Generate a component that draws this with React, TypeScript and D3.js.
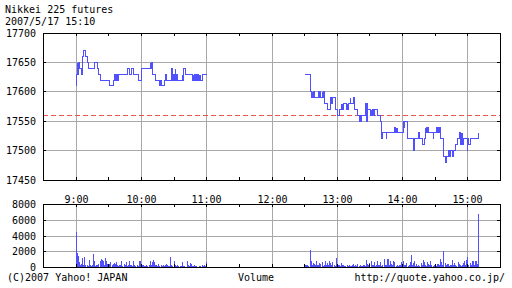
import React from 'react';
import * as d3 from 'd3';

const TITLE = 'Nikkei 225 futures';
const STAMP = '2007/5/17 15:10';
const FOOT_LEFT = '(C)2007 Yahoo! JAPAN';
const FOOT_MID = 'Volume';
const FOOT_RIGHT = 'http://quote.yahoo.co.jp/';

const PRICE_TICKS = [17450, 17500, 17550, 17600, 17650, 17700];
const VOL_TICKS = [0, 2000, 4000, 6000, 8000];
const HOUR_TICKS = [540, 600, 660, 720, 780, 840, 900];
const HOUR_LABELS = ['9:00', '10:00', '11:00', '12:00', '13:00', '14:00', '15:00'];
const PREV_CLOSE = 17560;

// morning session: minutes after 9:00 and price (step changes)
const AM_TIME = [0, 0.3, 0.8, 1.2, 1.6, 2.0, 2.4, 2.8, 4.9, 5.5, 6.1, 7.0, 8.9, 10.7, 11.2, 16.8, 19.3, 21.0, 22.3, 30.9, 34.0, 35.5, 36.0, 36.5, 37.0, 37.5, 38.0, 38.5, 47.4, 48.6, 50.8, 52.9, 57.5, 60.0, 68.0, 68.6, 69.2, 70.0, 72.5, 76.8, 77.7, 78.6, 80.8, 82.3, 83.0, 87.5, 88.4, 89.5, 90.0, 91.0, 91.5, 92.5, 93.0, 97.6, 98.2, 99.0, 100.7, 106.8, 107.5, 108.0, 108.5, 109.5, 110.0, 110.5, 111.5, 112.0, 113.0, 113.5, 114.0, 114.5, 116.0, 120.0];
const AM_PRICE = [17610, 17630, 17650, 17630, 17640, 17630, 17650, 17640, 17630, 17640, 17660, 17670, 17660, 17650, 17640, 17650, 17640, 17630, 17620, 17610, 17620, 17630, 17620, 17630, 17620, 17630, 17620, 17630, 17640, 17630, 17640, 17630, 17620, 17640, 17650, 17640, 17650, 17630, 17620, 17610, 17620, 17610, 17620, 17630, 17620, 17640, 17620, 17630, 17620, 17640, 17620, 17630, 17620, 17630, 17620, 17640, 17630, 17620, 17630, 17620, 17630, 17620, 17630, 17620, 17630, 17620, 17630, 17620, 17630, 17620, 17630, 17630];

// afternoon session: minutes after 12:00 and price (step changes)
const PM_TIME = [30, 35, 36.3, 36.8, 37.3, 37.8, 39, 43, 43.5, 44, 44.5, 46, 46.6, 47.2, 47.8, 50.8, 53.9, 54.3, 54.8, 55.3, 55.7, 57.9, 60.6, 62.4, 63.5, 64, 64.5, 65, 65.5, 68.5, 69, 69.5, 70, 72, 72.6, 75, 75.5, 78.4, 80, 80.5, 81, 81.5, 82, 82.5, 86, 86.5, 87, 87.5, 88, 90.6, 91, 91.5, 92, 93.5, 94, 97.3, 99.5, 100.2, 101, 101.6, 105, 105.5, 113, 113.5, 114, 114.5, 115, 115.5, 120.6, 121, 121.5, 122, 124.3, 130.5, 131, 135, 135.5, 138, 140, 141, 141.5, 142, 142.5, 143, 144.2, 148, 148.5, 151.2, 151.8, 152.4, 153, 153.6, 155, 158, 159.5, 160, 162.5, 163.5, 164.5, 165.5, 166.5, 168.7, 170.2, 172.7, 173.2, 173.7, 174.2, 174.7, 175.2, 175.7, 179.4, 180, 181, 182.5, 189.5, 190];
const PM_PRICE = [17630, 17600, 17590, 17600, 17590, 17600, 17590, 17600, 17590, 17600, 17590, 17600, 17590, 17600, 17580, 17570, 17590, 17580, 17590, 17580, 17590, 17570, 17560, 17570, 17580, 17570, 17580, 17570, 17580, 17570, 17580, 17570, 17580, 17590, 17580, 17590, 17570, 17560, 17550, 17560, 17550, 17560, 17550, 17560, 17580, 17550, 17580, 17550, 17570, 17560, 17570, 17560, 17570, 17560, 17570, 17560, 17550, 17530, 17520, 17530, 17520, 17530, 17540, 17530, 17540, 17530, 17540, 17530, 17540, 17550, 17540, 17550, 17520, 17500, 17520, 17530, 17520, 17510, 17520, 17540, 17530, 17540, 17530, 17540, 17530, 17520, 17530, 17540, 17530, 17540, 17530, 17540, 17520, 17490, 17480, 17490, 17500, 17490, 17500, 17490, 17500, 17510, 17520, 17530, 17510, 17530, 17510, 17530, 17510, 17520, 17500, 17520, 17510, 17520, 17530, 17530];

// volume per minute, 9:00 .. 11:00
const AM_VOL = [4500, 1800, 1400, 600, 300, 350, 1200, 200, 1300, 300, 200, 150, 900, 250, 100, 200, 1600, 700, 150, 200, 300, 400, 700, 1000, 900, 700, 300, 1100, 700, 400, 350, 400, 600, 200, 400, 500, 400, 600, 300, 150, 300, 200, 800, 150, 400, 200, 600, 150, 250, 700, 200, 300, 150, 800, 300, 100, 200, 150, 700, 800, 200, 300, 200, 100, 150, 200, 100, 250, 700, 300, 600, 900, 600, 200, 300, 150, 400, 100, 300, 150, 200, 100, 250, 400, 300, 100, 150, 1300, 300, 150, 700, 200, 100, 200, 100, 50, 100, 150, 600, 100, 100, 50, 800, 200, 100, 500, 400, 150, 100, 300, 100, 100, 50, 100, 100, 50, 200, 100, 200, 100, 600];

// volume per minute, 12:30 .. 15:10
const PM_VOL = [400, 300, 200, 300, 150, 2200, 700, 300, 500, 400, 200, 700, 300, 200, 500, 400, 600, 150, 300, 800, 200, 500, 250, 700, 500, 200, 600, 300, 150, 1100, 300, 200, 250, 100, 500, 200, 200, 100, 150, 250, 100, 200, 150, 100, 200, 400, 150, 200, 100, 400, 150, 200, 100, 150, 300, 200, 150, 900, 400, 200, 500, 700, 250, 200, 600, 150, 300, 800, 300, 200, 600, 150, 250, 1000, 200, 300, 1000, 1000, 300, 700, 400, 200, 700, 600, 150, 200, 100, 300, 200, 600, 300, 700, 200, 300, 500, 150, 250, 600, 1500, 200, 500, 700, 150, 400, 100, 200, 150, 500, 200, 900, 600, 300, 150, 600, 400, 200, 700, 300, 150, 200, 300, 150, 400, 400, 200, 1000, 600, 250, 2000, 500, 200, 400, 400, 150, 200, 300, 900, 200, 500, 300, 150, 600, 400, 200, 150, 300, 500, 700, 200, 900, 1300, 300, 500, 200, 700, 800, 300, 700, 800, 400, 6700];

const LINE = '#5050ff';
const GRID = '#a8a8a8';
const DASH = '#f05050';
const FONT = '"DejaVu Sans Mono", monospace';

const X0 = 43, X1 = 500;
const x = d3.scaleLinear().domain([510, 930]).range([X0, X1]);
const yP = d3.scaleLinear().domain([17450, 17700]).range([180, 33]);
const yV = d3.scaleLinear().domain([0, 8000]).range([267, 204]);

const px = (t: number) => Math.round(x(t));
const pyP = (v: number) => Math.floor(yP(v));
const pyV = (v: number) => Math.round(yV(v));

const line = d3
  .line<[number, number]>()
  .x((d) => px(d[0]) + 0.5)
  .y((d) => pyP(d[1]) + 0.5)
  .curve(d3.curveStepAfter);

const amPts: [number, number][] = AM_TIME.map((t, i) => [540 + t, AM_PRICE[i]]);
const pmPts: [number, number][] = PM_TIME.map((t, i) => [720 + t, PM_PRICE[i]]);

const halfHours = d3.range(540, 930, 30);

function Panel({ top, bottom, yTicks, yPos }: { top: number; bottom: number; yTicks: number[]; yPos: (v: number) => number }) {
  return (
    <g shapeRendering="crispEdges">
      {HOUR_TICKS.map((t) => (
        <line key={'vg' + t} x1={px(t) + 0.5} x2={px(t) + 0.5} y1={top} y2={bottom} stroke={GRID} />
      ))}
      {yTicks.slice(1, -1).map((v) => (
        <line key={'hg' + v} x1={X0} x2={X1} y1={yPos(v) + 0.5} y2={yPos(v) + 0.5} stroke={GRID} />
      ))}
    </g>
  );
}

function Frame({ top, bottom, yTicks, yPos }: { top: number; bottom: number; yTicks: number[]; yPos: (v: number) => number }) {
  return (
    <g shapeRendering="crispEdges" stroke="#000">
      {halfHours.map((t) => (
        <g key={'t' + t}>
          <line x1={px(t) + 0.5} x2={px(t) + 0.5} y1={top} y2={top + 3} />
          <line x1={px(t) + 0.5} x2={px(t) + 0.5} y1={bottom} y2={bottom - 3} />
        </g>
      ))}
      {yTicks.map((v) => (
        <g key={'y' + v}>
          <line x1={X0} x2={X0 + 3} y1={yPos(v) + 0.5} y2={yPos(v) + 0.5} />
          <line x1={X1} x2={X1 - 3} y1={yPos(v) + 0.5} y2={yPos(v) + 0.5} />
        </g>
      ))}
      <rect x={X0 + 0.5} y={top + 0.5} width={X1 - X0} height={bottom - top} fill="none" />
    </g>
  );
}

export default function App() {
  const pTop = pyP(17700), pBot = pyP(17450);
  const vTop = pyV(8000), vBot = pyV(0);
  return (
    <svg width={512} height={288} style={{ position: 'absolute', left: 0, top: 0, background: '#fff' }} fontFamily={FONT} fontSize={10}>
      <rect width={512} height={288} fill="#fff" />
      <text x={5} y={13}>{TITLE}</text>
      <text x={5} y={25}>{STAMP}</text>

      <Panel top={pTop} bottom={pBot} yTicks={PRICE_TICKS} yPos={pyP} />
      <line x1={X0} x2={X1} y1={pyP(PREV_CLOSE) + 0.5} y2={pyP(PREV_CLOSE) + 0.5} stroke={DASH} strokeDasharray="5,3" shapeRendering="crispEdges" />
      <path d={line(amPts) || ''} fill="none" stroke={LINE} shapeRendering="crispEdges" />
      <path d={line(pmPts) || ''} fill="none" stroke={LINE} shapeRendering="crispEdges" />
      <Frame top={pTop} bottom={pBot} yTicks={PRICE_TICKS} yPos={pyP} />
      {PRICE_TICKS.map((v) => (
        <text key={'pl' + v} x={36} y={pyP(v) + 4} textAnchor="end">{v}</text>
      ))}
      {HOUR_TICKS.map((t, i) => (
        <text key={'hl' + t} x={px(t) + 0.5} y={203} textAnchor="middle">{HOUR_LABELS[i]}</text>
      ))}

      <Panel top={vTop} bottom={vBot} yTicks={VOL_TICKS} yPos={pyV} />
      <g fill={LINE} shapeRendering="crispEdges">
        {AM_VOL.map((v, i) => (
          <rect key={'av' + i} x={px(540 + i)} y={pyV(v)} width={1} height={vBot - pyV(v)} />
        ))}
        {PM_VOL.map((v, i) => (
          <rect key={'pv' + i} x={px(750 + i)} y={pyV(v)} width={1} height={vBot - pyV(v)} />
        ))}
      </g>
      <Frame top={vTop} bottom={vBot} yTicks={VOL_TICKS} yPos={pyV} />
      {VOL_TICKS.map((v) => (
        <text key={'vl' + v} x={36} y={pyV(v) + 4} textAnchor="end">{v}</text>
      ))}

      <text x={7} y={281}>{FOOT_LEFT}</text>
      <text x={256} y={281} textAnchor="middle">{FOOT_MID}</text>
      <text x={505} y={281} textAnchor="end">{FOOT_RIGHT}</text>
    </svg>
  );
}
